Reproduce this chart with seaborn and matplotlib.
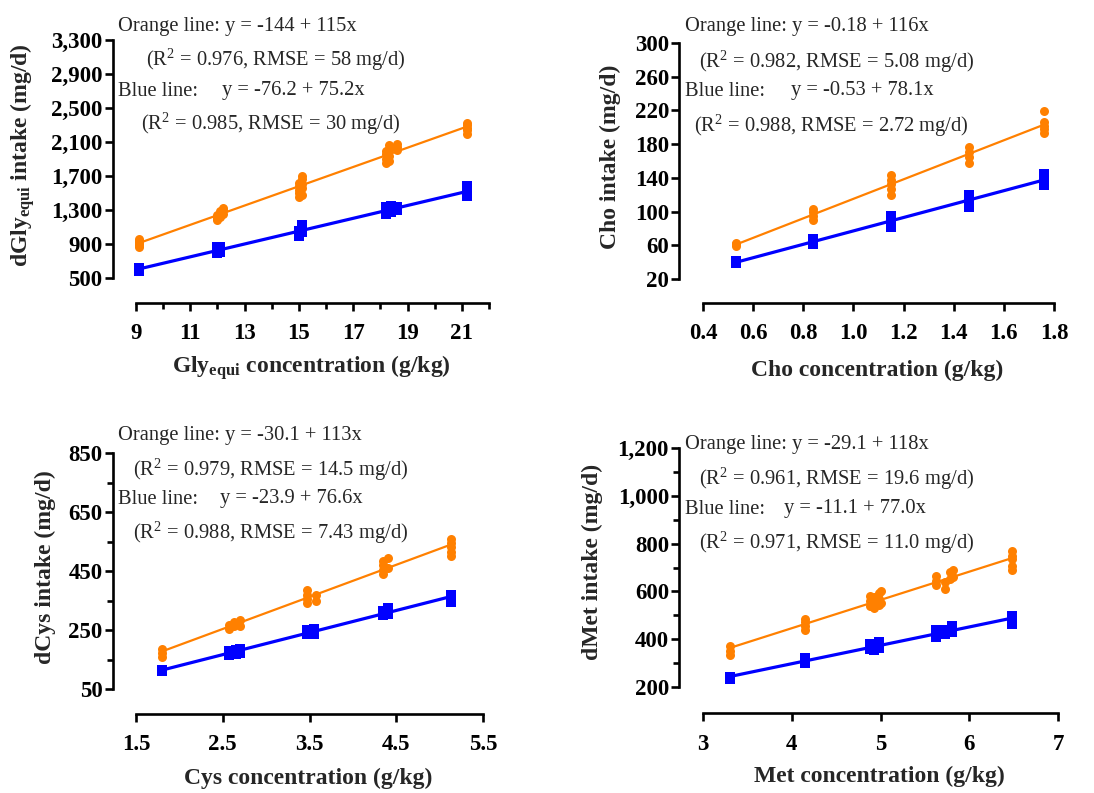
import pandas as pd
import matplotlib
matplotlib.use("Agg")
import matplotlib.pyplot as plt
import seaborn as sns

# ----------------------------
# DATA
# ----------------------------

# Gly_equi panel
gly_orange_x = [9.1, 9.1, 9.1, 9.1, 9.1, 9.1, 12.0, 12.0, 12.0, 12.1, 12.1, 12.1, 12.2, 12.2, 12.2,
                15.0, 15.0, 15.0, 15.0, 15.0, 15.1, 15.1, 15.1, 15.1, 15.1, 18.2, 18.2, 18.2, 18.2,
                18.3, 18.3, 18.3, 18.3, 18.6, 18.6, 18.6, 21.2, 21.2, 21.2, 21.2, 21.2]
gly_orange_y = [870, 890, 905, 920, 940, 960, 1180, 1210, 1240, 1220, 1260, 1290, 1250, 1300, 1320,
                1450, 1500, 1540, 1580, 1620, 1480, 1560, 1610, 1660, 1700, 1850, 1900, 1960, 2000,
                1880, 1940, 2020, 2060, 2010, 2040, 2080, 2200, 2240, 2270, 2300, 2320]
gly_blue_x = [9.1, 9.1, 9.1, 12.0, 12.0, 12.0, 12.1, 12.1, 12.1, 15.0, 15.0, 15.0, 15.1, 15.1, 15.1,
              18.2, 18.2, 18.2, 18.4, 18.4, 18.4, 18.6, 18.6, 21.2, 21.2, 21.2, 21.2]
gly_blue_y = [580, 600, 615, 800, 830, 860, 810, 850, 870, 990, 1020, 1050, 1040, 1080, 1120,
              1250, 1290, 1330, 1280, 1320, 1350, 1300, 1330, 1460, 1500, 1540, 1580]

# Cho panel
cho_orange_x = [0.53, 0.53, 0.53, 0.84, 0.84, 0.84, 0.84, 1.15, 1.15, 1.15, 1.15, 1.15,
                1.46, 1.46, 1.46, 1.46, 1.76, 1.76, 1.76, 1.76, 1.76]
cho_orange_y = [59, 61, 63, 90, 95, 99, 103, 120, 127, 133, 138, 143,
                158, 165, 171, 177, 193, 198, 202, 206, 219]
cho_blue_x = [0.53, 0.53, 0.84, 0.84, 0.84, 1.15, 1.15, 1.15, 1.15, 1.46, 1.46, 1.46, 1.46,
              1.76, 1.76, 1.76, 1.76]
cho_blue_y = [39, 41, 62, 65, 68, 82, 86, 91, 95, 105, 110, 115, 120, 132, 136, 141, 145]

# Cys panel
cys_orange_x = [1.8, 1.8, 1.8, 2.57, 2.57, 2.63, 2.63, 2.70, 2.70, 3.47, 3.47, 3.47, 3.47, 3.57, 3.57,
                4.35, 4.35, 4.35, 4.35, 4.40, 4.40, 5.13, 5.13, 5.13, 5.13, 5.13]
cys_orange_y = [160, 172, 185, 255, 268, 262, 278, 265, 285, 340, 355, 370, 385, 350, 368,
                440, 455, 470, 485, 460, 495, 500, 515, 530, 545, 560]
cys_blue_x = [1.8, 1.8, 2.57, 2.57, 2.65, 2.65, 2.70, 2.70, 3.47, 3.47, 3.52, 3.55, 3.55,
              4.35, 4.35, 4.40, 4.40, 5.13, 5.13, 5.13]
cys_blue_y = [110, 115, 165, 178, 170, 183, 172, 185, 235, 250, 245, 238, 255,
              300, 315, 305, 325, 345, 358, 370]

# Met panel
met_orange_x = [3.3, 3.3, 3.3, 4.15, 4.15, 4.15, 4.15, 4.88, 4.88, 4.88, 4.93, 4.93, 4.93,
                4.98, 4.98, 4.98, 5.0, 5.0, 5.62, 5.62, 5.62, 5.73, 5.73, 5.78, 5.78, 5.82, 5.82,
                6.48, 6.48, 6.48, 6.48, 6.48]
met_orange_y = [335, 352, 370, 440, 455, 470, 485, 540, 560, 580, 530, 555, 575,
                545, 570, 595, 550, 600, 625, 645, 665, 610, 640, 650, 680, 660, 690,
                690, 705, 735, 750, 770]
met_blue_x = [3.3, 3.3, 4.15, 4.15, 4.15, 4.88, 4.88, 4.93, 4.93, 4.98, 4.98, 5.62, 5.62, 5.62,
              5.73, 5.73, 5.80, 5.80, 6.48, 6.48, 6.48]
met_blue_y = [233, 240, 300, 310, 320, 360, 380, 355, 378, 365, 390, 410, 425, 440,
              420, 440, 430, 455, 465, 480, 495]

# ticks and labels
gly_xticks = [9, 11, 13, 15, 17, 19, 21]
gly_xminor = [10, 12, 14, 16, 18, 20, 22]
gly_yticks = [500, 900, 1300, 1700, 2100, 2500, 2900, 3300]
gly_yticklabels = ["500", "900", "1,300", "1,700", "2,100", "2,500", "2,900", "3,300"]

cho_xticks = [0.4, 0.6, 0.8, 1.0, 1.2, 1.4, 1.6, 1.8]
cho_xticklabels = ["0.4", "0.6", "0.8", "1.0", "1.2", "1.4", "1.6", "1.8"]
cho_yticks = [20, 60, 100, 140, 180, 220, 260, 300]

cys_xticks = [1.5, 2.5, 3.5, 4.5, 5.5]
cys_xticklabels = ["1.5", "2.5", "3.5", "4.5", "5.5"]
cys_yticks = [50, 250, 450, 650, 850]
cys_yminor = [150, 350, 550, 750]

met_xticks = [3, 4, 5, 6, 7]
met_yticks = [200, 400, 600, 800, 1000, 1200]
met_yticklabels = ["200", "400", "600", "800", "1,000", "1,200"]
met_yminor = [300, 500, 700, 900, 1100]

gly_text = ["Orange line: y = -144 + 115x", "(R$^{2}$ = 0.976, RMSE = 58 mg/d)",
            "Blue line:", "y = -76.2 + 75.2x", "(R$^{2}$ = 0.985, RMSE = 30 mg/d)"]
cho_text = ["Orange line: y = -0.18 + 116x", "(R$^{2}$ = 0.982, RMSE = 5.08 mg/d)",
            "Blue line:", "y = -0.53 + 78.1x", "(R$^{2}$ = 0.988, RMSE = 2.72 mg/d)"]
cys_text = ["Orange line: y = -30.1 + 113x", "(R$^{2}$ = 0.979, RMSE = 14.5 mg/d)",
            "Blue line:", "y = -23.9 + 76.6x", "(R$^{2}$ = 0.988, RMSE = 7.43 mg/d)"]
met_text = ["Orange line: y = -29.1 + 118x", "(R$^{2}$ = 0.961, RMSE = 19.6 mg/d)",
            "Blue line:", "y = -11.1 + 77.0x", "(R$^{2}$ = 0.971, RMSE = 11.0 mg/d)"]

# ----------------------------
# STYLE
# ----------------------------
sns.set_theme(style="ticks")
plt.rcParams['font.family'] = ['Liberation Serif', 'DejaVu Serif']
plt.rcParams['font.weight'] = 'bold'
plt.rcParams['mathtext.fontset'] = 'custom'
plt.rcParams['mathtext.rm'] = 'Liberation Serif:regular'
plt.rcParams['mathtext.bf'] = 'Liberation Serif:bold'
plt.rcParams['mathtext.it'] = 'Liberation Serif:italic:regular'

ORANGE = '#FF8000'
BLUE = '#0000FF'
W, H = 1094, 793
TICK_FS = 16.5
LABEL_FS = 17
NOTE_FS = 14.8

fig = plt.figure(figsize=(10.94, 7.93), dpi=100)


def px_axes(l, t, r, b):
    return fig.add_axes([l / W, 1 - b / H, (r - l) / W, (b - t) / H])


def draw_panel(ax, ox, oy, bx, by, xlim, ylim, off_l, off_b):
    orange = pd.DataFrame({'x': ox, 'y': oy})
    blue = pd.DataFrame({'x': bx, 'y': by})
    sns.scatterplot(data=orange, x='x', y='y', ax=ax, color=ORANGE, marker='o', s=42,
                    edgecolor=ORANGE, linewidth=0, clip_on=False, zorder=3)
    sns.scatterplot(data=blue, x='x', y='y', ax=ax, color=BLUE, marker='s', s=58,
                    edgecolor=BLUE, linewidth=0, clip_on=False, zorder=3)
    sns.regplot(data=orange, x='x', y='y', ax=ax, scatter=False, ci=None, color=ORANGE,
                line_kws={'lw': 1.6, 'zorder': 4})
    sns.regplot(data=blue, x='x', y='y', ax=ax, scatter=False, ci=None, color=BLUE,
                line_kws={'lw': 2.3, 'zorder': 4})
    ax.set_xlim(*xlim)
    ax.set_ylim(*ylim)
    ax.set_xlabel('')
    ax.set_ylabel('')
    for side in ['top', 'right']:
        ax.spines[side].set_visible(False)
    ax.spines['left'].set_position(('outward', off_l))
    ax.spines['bottom'].set_position(('outward', off_b))
    ax.spines['left'].set_bounds(*ylim)
    ax.spines['bottom'].set_bounds(*xlim)
    for side in ['left', 'bottom']:
        ax.spines[side].set_linewidth(1.9)
        ax.spines[side].set_color('black')
    ax.set_facecolor('none')
    ax.tick_params(axis='both', which='major', direction='out', length=6, width=1.9,
                   color='black', labelsize=TICK_FS, labelcolor='black')
    ax.tick_params(axis='both', which='minor', direction='out', length=4, width=1.9, color='black')
    ax.tick_params(axis='y', which='major', pad=1.5)
    ax.tick_params(axis='x', which='major', pad=8.5)


def put_text(lines, pos):
    # pos: pixel positions (x, y) for each text piece
    for s, (x, y) in zip(lines, pos):
        fig.text(x / W, 1 - y / H, s, fontsize=NOTE_FS, fontweight='normal', ha='left', va='center')


# Gly_equi
ax1 = px_axes(136, 40, 489, 278)
draw_panel(ax1, gly_orange_x, gly_orange_y, gly_blue_x, gly_blue_y, (9, 22), (500, 3300), 16.5, 18)
ax1.set_xticks(gly_xticks)
ax1.set_xticks(gly_xminor, minor=True)
ax1.set_yticks(gly_yticks)
ax1.set_yticklabels(gly_yticklabels)
put_text(gly_text, [(118, 26), (146, 60), (118, 91), (222, 91), (141, 124)])
fig.text(311 / W, 1 - 368 / H, r"Gly$_{\mathbf{equi}}$ concentration (g/kg)", fontsize=LABEL_FS,
         ha='center', va='center')
fig.text(23 / W, 1 - 155 / H, r"dGly$_{\mathbf{equi}}$ intake (mg/d)", fontsize=LABEL_FS,
         ha='center', va='center', rotation=90)

# Cho
ax2 = px_axes(703, 43, 1054, 279)
draw_panel(ax2, cho_orange_x, cho_orange_y, cho_blue_x, cho_blue_y, (0.4, 1.8), (20, 300), 17, 17)
ax2.set_xticks(cho_xticks)
ax2.set_xticklabels(cho_xticklabels)
ax2.set_yticks(cho_yticks)
put_text(cho_text, [(685, 27), (699, 62), (685, 91), (791, 91), (694, 126)])
fig.text(877 / W, 1 - 370 / H, "Cho concentration (g/kg)", fontsize=LABEL_FS, ha='center', va='center')
fig.text(610 / W, 1 - 157 / H, "Cho intake (mg/d)", fontsize=LABEL_FS, ha='center', va='center',
         rotation=90)

# Cys
ax3 = px_axes(136, 453, 483, 689)
draw_panel(ax3, cys_orange_x, cys_orange_y, cys_blue_x, cys_blue_y, (1.5, 5.5), (50, 850), 16.5, 18)
ax3.set_xticks(cys_xticks)
ax3.set_xticklabels(cys_xticklabels)
ax3.set_yticks(cys_yticks)
ax3.set_yticks(cys_yminor, minor=True)
put_text(cys_text, [(118, 436), (133, 470), (118, 499), (220, 499), (133, 533)])
fig.text(308 / W, 1 - 778 / H, "Cys concentration (g/kg)", fontsize=LABEL_FS, ha='center', va='center')
fig.text(45 / W, 1 - 567 / H, "dCys intake (mg/d)", fontsize=LABEL_FS, ha='center', va='center',
         rotation=90)

# Met
ax4 = px_axes(703, 448, 1058, 687)
draw_panel(ax4, met_orange_x, met_orange_y, met_blue_x, met_blue_y, (3, 7), (200, 1200), 17, 19)
ax4.set_xticks(met_xticks)
ax4.set_yticks(met_yticks)
ax4.set_yticklabels(met_yticklabels)
ax4.set_yticks(met_yminor, minor=True)
put_text(met_text, [(685, 444), (699, 479), (685, 509), (784, 509), (699, 543)])
fig.text(879 / W, 1 - 776 / H, "Met concentration (g/kg)", fontsize=LABEL_FS, ha='center', va='center')
fig.text(592 / W, 1 - 562 / H, "dMet intake (mg/d)", fontsize=LABEL_FS, ha='center', va='center',
         rotation=90)

fig.savefig("out.png", dpi=100)
